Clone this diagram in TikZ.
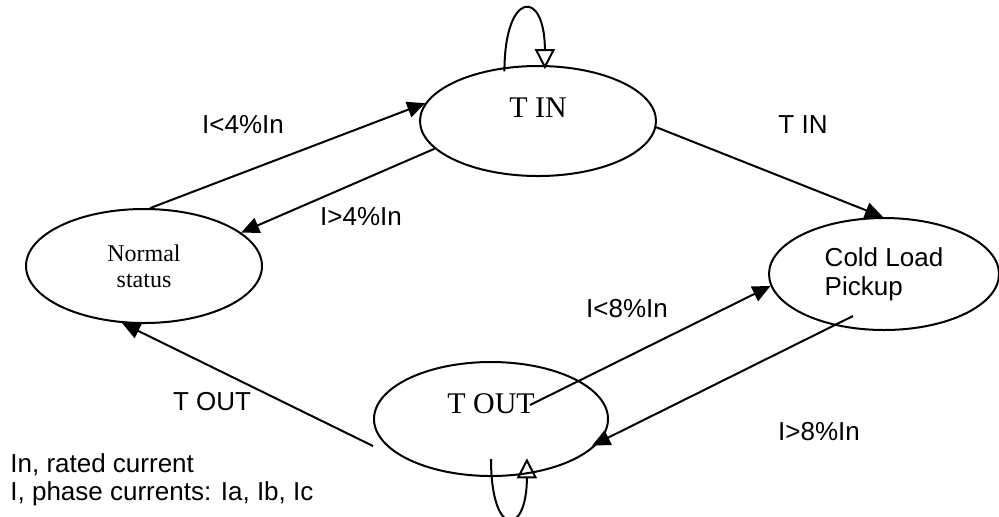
\documentclass[tikz,border=0pt]{standalone}
\usepackage{fontspec}
\setmainfont{Liberation Serif}
\newfontfamily\arialfont{Liberation Sans}
\usetikzlibrary{arrows.meta,shapes.geometric,calc}
\tikzset{
  state/.style={draw, ellipse, line width=1pt, inner sep=0pt},
  lbl/.style={font=\arialfont\fontsize{13}{14}\selectfont, anchor=base, inner sep=0pt},
  arr/.style={line width=1pt, -{Triangle[length=9pt,width=8pt]}},
  selfarr/.style={line width=1pt, -{Triangle[open,length=10pt,width=10pt]}}
}
\begin{document}
\begin{tikzpicture}[x=0.5pt, y=-0.5pt]
  \useasboundingbox (0,0) rectangle (999,516);
  % states
  \node [state, minimum width=118pt, minimum height=55pt,
         label={[name=tintxt, font=\fontsize{15}{18}\selectfont, yshift=6.75pt]center:T IN}] (tin) at (538,121) {};
  \node [state, minimum width=118pt, minimum height=57pt, align=center,
         font=\fontsize{12}{13}\selectfont] (normal) at (144,266) {Normal\\status};
  \node [state, minimum width=115pt, minimum height=56pt, align=left,
         font=\arialfont\fontsize{13}{14.5}\selectfont] (cold) at (884,274) {Cold Load\\Pickup};
  \node [state, minimum width=117pt, minimum height=57pt,
         label={[name=touttxt, font=\fontsize{15}{18}\selectfont, yshift=7.5pt]center:T OUT}] (tout) at (491,419) {};
  % transitions
  \draw [arr] (normal.84) -- (tin.171);
  \draw [arr] (tin.195) -- (normal.19);
  \draw [arr] (tin.-3) -- (cold.91);
  \draw [arr, shorten >=-4pt] ($(cold.center)+(-31,42)$) -- (tout.-12);
  \draw [arr] ($(tout.center)+(39,-14)$) -- (cold.186);
  \draw [arr] ($(tout.center)+(-118,27)$) -- (normal.249);
  % self loops
  \draw [selfarr, shorten <=-2pt, shorten >=-2pt] (tin.122) .. controls +(0,-77) and +(0,-77) .. (tin.83);
  \draw [selfarr, shorten <=-9pt, shorten >=-8pt] (tout.270) .. controls +(0,62) and +(0,62) .. (tout.303);
  % labels
  \node [lbl] (lt1) at (243,133) {I<4\%In};
  \node [lbl] (lt2) at (361,225) {I>4\%In};
  \node [lbl] (lt3) at (803,133) {T IN};
  \node [lbl] (lt4) at (627,317) {I<8\%In};
  \node [lbl] (lt5) at (819,440) {I>8\%In};
  \node [lbl] (lt6) at (212,410) {T OUT};
  \node [lbl, anchor=north west, align=left] (legend) at (10,453) {In, rated current\\I, phase currents: Ia, Ib, Ic};
\end{tikzpicture}
\end{document}
